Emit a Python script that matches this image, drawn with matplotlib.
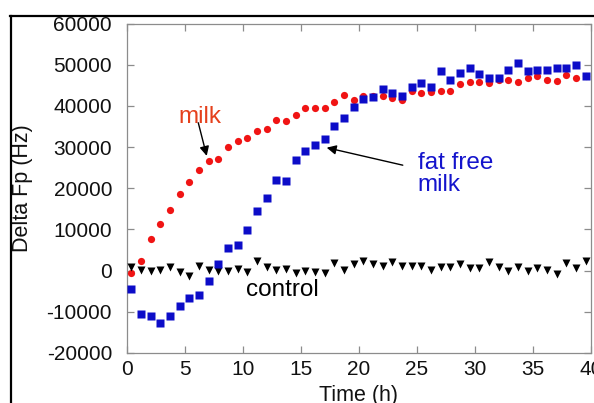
import matplotlib
matplotlib.use("Agg")
import matplotlib.pyplot as plt
from matplotlib.lines import Line2D

plt.rcParams['font.family'] = ['Liberation Sans', 'DejaVu Sans']

time_h = [0.4, 1.23, 2.07, 2.9, 3.73, 4.57, 5.4, 6.23, 7.07, 7.9, 8.73, 9.57,
          10.4, 11.23, 12.07, 12.9, 13.73, 14.57, 15.4, 16.23, 17.07, 17.9, 18.73, 19.57,
          20.4, 21.23, 22.07, 22.9, 23.73, 24.57, 25.4, 26.23, 27.07, 27.9, 28.73, 29.57,
          30.4, 31.23, 32.07, 32.9, 33.73, 34.57, 35.4, 36.23, 37.07, 37.9, 38.73, 39.57]

milk = [-500, 2400, 7700, 11300, 14700, 18600, 21400, 24400, 26500, 27100, 29900, 31400,
        32300, 33900, 34500, 36600, 36300, 37700, 39400, 39500, 39500, 41000, 42700, 41400,
        42400, 42400, 42400, 41800, 41500, 43600, 43100, 43300, 43600, 43700, 45400, 45800,
        45900, 45500, 46200, 46400, 45800, 46700, 47300, 46200, 46000, 47500, 46800, 47200]

fat_free_milk = [-4400, -10500, -10900, -12700, -11100, -8500, -6700, -5800, -2400, 1600, 5600, 6200,
                 9900, 14500, 17700, 22000, 21800, 26900, 29100, 30500, 31900, 35000, 37000, 39700,
                 41700, 42200, 44200, 43200, 42500, 44700, 45600, 44600, 48500, 46300, 48000, 49200,
                 47800, 46700, 46700, 48800, 50400, 48500, 48600, 48700, 49100, 49200, 49900, 47300]

control = [1000, 150, -150, 150, 800, -250, -1200, 1100, 150, 0, -150, 300,
           -400, 2400, 1000, 150, 300, -500, 0, -250, -500, 1800, 150, 1600,
           2300, 1600, 1200, 2200, 1200, 1200, 1200, 150, 1000, 1000, 1600, 650,
           650, 2000, 800, -150, 1000, 0, 650, 150, -800, 1800, 550, 2300]

x_ticks = [0, 5, 10, 15, 20, 25, 30, 35, 40]
y_ticks = [-20000, -10000, 0, 10000, 20000, 30000, 40000, 50000, 60000]

W, H = 594, 403
fig = plt.figure(figsize=(W / 100, H / 100), dpi=100)
ax = fig.add_axes([126.7 / W, 1 - 353 / H, 464 / W, 329.5 / H])

ax.plot(time_h, milk, linestyle='none', marker='o', ms=5.2, color='#f01414', mec='none', zorder=3)
ax.plot(time_h, fat_free_milk, linestyle='none', marker='s', ms=5.8, color='#0c0cc8', mec='none', zorder=4)
ax.plot(time_h, control, linestyle='none', marker='v', ms=5.2, color='black', mec='none', zorder=3)

ax.set_xlim(0, 40)
ax.set_ylim(-20000, 60000)
ax.set_xticks(x_ticks)
ax.set_yticks(y_ticks)
ax.set_xticklabels([str(v) for v in x_ticks])
ax.set_yticklabels([str(v) for v in y_ticks])

spine_col = '#8c8c8c'
for s in ax.spines.values():
    s.set_color(spine_col)
    s.set_linewidth(0.9)
ax.tick_params(axis='both', which='both', direction='in', length=5, width=0.9,
               color=spine_col, top=True, right=True, labelsize=15, labelcolor='#111111')
ax.tick_params(axis='x', pad=5)
ax.tick_params(axis='y', pad=10.5)

ax.set_xlabel('Time (h)', fontsize=15.5, labelpad=4, color='#111111')
ax.set_ylabel('Delta Fp (Hz)', fontsize=15.5, labelpad=9.5, color='#111111')

# annotations
ax.text(6.3, 35900, 'milk', color='#e5401c', fontsize=17.5, ha='center', va='baseline')
ax.annotate('', xy=(6.9, 27850), xytext=(6.17, 35900),
            arrowprops=dict(arrowstyle='-|>', color='black', lw=1.0, mutation_scale=14,
                            shrinkA=0, shrinkB=0))
ax.text(25.1, 28700, 'fat free\nmilk', color='#1414cc', fontsize=17.5, ha='left', va='top',
        linespacing=1.0)
ax.annotate('', xy=(17.24, 29850), xytext=(23.8, 25600),
            arrowprops=dict(arrowstyle='-|>', color='black', lw=1.0, mutation_scale=14,
                            shrinkA=0, shrinkB=0))
ax.text(10.26, -6050, 'control', color='black', fontsize=17.5, ha='left', va='baseline')

# outer frame lines
fig.add_artist(Line2D([10 / W, 1], [1 - 15.5 / H, 1 - 15.5 / H], color='black', lw=1.6,
                      transform=fig.transFigure))
fig.add_artist(Line2D([11 / W, 11 / W], [0, 1 - 15.5 / H], color='black', lw=1.6,
                      transform=fig.transFigure))

fig.savefig('out.png', dpi=100)
